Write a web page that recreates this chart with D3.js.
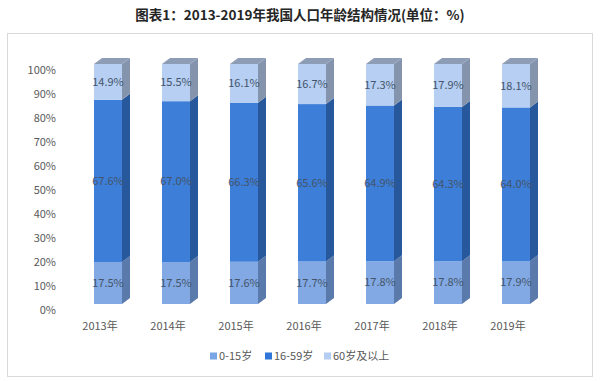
<!DOCTYPE html>
<html><head><meta charset="utf-8">
<script src="https://cdn.jsdelivr.net/npm/d3@7"></script>
<style>
body{margin:0;background:#fff;}
svg text{font-family:"Noto Sans CJK SC","Noto Sans",sans-serif;}
</style></head>
<body><svg id="c" width="600" height="381"></svg>
<script>
const years = ["2013年","2014年","2015年","2016年","2017年","2018年","2019年"];
const seriesNames = ["0-15岁","16-59岁","60岁及以上"];
const age0_15 = [17.5,17.5,17.6,17.7,17.8,17.8,17.9];
const age16_59 = [67.6,67.0,66.3,65.6,64.9,64.3,64.0];
const age60plus = [14.9,15.5,16.1,16.7,17.3,17.9,18.1];
const yTicks = [0,10,20,30,40,50,60,70,80,90,100];
const title = "图表1：2013-2019年我国人口年龄结构情况(单位：%)";

const frontColors = ["#82a9e3","#3d7ed8","#b6cff2"];
const sideColors = ["#5a7aab","#28589c","#8594ad"];
const lidColor = "#8e9db6";
const legendColors = ["#7ba6e6","#2f76d8","#b4cdf2"];

const svg = d3.select("#c");
const dx = 8, dy = 6;

// frame
svg.append("rect").attr("x",7.5).attr("y",33.5).attr("width",585).attr("height",343)
  .attr("fill","#fff").attr("stroke","#d9d9d9").attr("stroke-width",1);

svg.append("text").attr("x",300).attr("y",20).attr("text-anchor","middle")
  .attr("font-size",13.5).attr("font-weight","bold").attr("fill","#262626").text(title);

const x = d3.scaleBand().domain(years).range([74,550]).paddingInner(40/68).paddingOuter(20/68);
const y = d3.scaleLinear().domain([0,100]).range([304,64]);

const rows = years.map((yr,i)=>({year:yr, v:[age0_15[i],age16_59[i],age60plus[i]]}));
const stack = d3.stack().keys([0,1,2]).value((d,k)=>d.v[k]);
const stacked = stack(rows);

// y axis labels
const yAxis = d3.axisLeft(y).tickValues(yTicks).tickSize(0).tickPadding(0).tickFormat(d=>d+"%");
const ga = svg.append("g").attr("transform","translate(56,6)").call(yAxis);
ga.select(".domain").remove();
ga.selectAll("text").attr("font-size",11).attr("fill","#595959")
  .attr("font-family",'"Noto Sans CJK SC","Noto Sans",sans-serif');

const bw = x.bandwidth();
const gBars = svg.append("g");
stacked.forEach((layer,k)=>{
  layer.forEach((d,i)=>{
    const x0 = x(years[i]);
    const yt = y(d[1]), yb = y(d[0]);
    // side
    gBars.append("path")
      .attr("d",`M${x0+bw},${yb} L${x0+bw+dx},${yb-dy} L${x0+bw+dx},${yt-dy} L${x0+bw},${yt} Z`)
      .attr("fill",sideColors[k]);
    // front
    gBars.append("rect").attr("x",x0).attr("y",yt).attr("width",bw).attr("height",yb-yt)
      .attr("fill",frontColors[k]);
  });
});
// lids
years.forEach((yr,i)=>{
  const x0 = x(yr);
  const yt = y(d3.sum(rows[i].v));
  gBars.append("path")
    .attr("d",`M${x0},${yt} L${x0+dx},${yt-dy} L${x0+bw+dx},${yt-dy} L${x0+bw},${yt} Z`)
    .attr("fill",lidColor);
});
// data labels
stacked.forEach((layer,k)=>{
  layer.forEach((d,i)=>{
    const x0 = x(years[i]);
    svg.append("text").attr("x",x0+bw/2).attr("y",(y(d[0])+y(d[1]))/2)
      .attr("dy","0.35em").attr("text-anchor","middle").attr("font-size",11)
      .attr("fill","#44546a").text(rows[i].v[k].toFixed(1)+"%");
  });
});
// category labels
years.forEach(yr=>{
  svg.append("text").attr("x",x(yr)+bw/2-8).attr("y",330).attr("text-anchor","middle")
    .attr("font-size",11).attr("fill","#595959").text(yr);
});
// legend
const legendX = [210,265,324];
seriesNames.forEach((n,k)=>{
  const g = svg.append("g").attr("transform",`translate(${legendX[k]},356)`);
  g.append("rect").attr("x",0).attr("y",-3.5).attr("width",7).attr("height",7).attr("fill",legendColors[k]);
  g.append("text").attr("x",9).attr("y",0).attr("dy","0.35em").attr("font-size",11)
    .attr("fill","#595959").text(n);
});
</script></body></html>
